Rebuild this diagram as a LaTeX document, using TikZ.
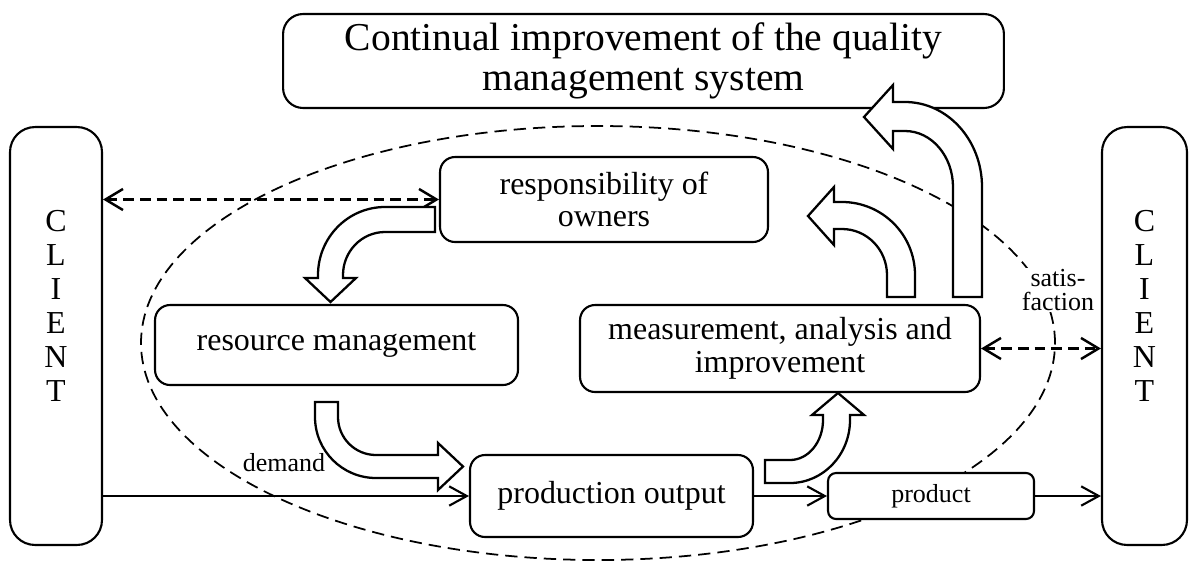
\documentclass[tikz,border=0pt]{standalone}
\usepackage{fontspec}
\setmainfont{Liberation Serif}
\usetikzlibrary{arrows.meta}

\tikzset{
    box/.style={draw, line width=1.2pt, fill=white, rounded corners=0.3cm, align=center, inner sep=0pt, font=\fontsize{18.2}{18.5}\selectfont},
    small/.style={fill=white, inner sep=1pt, align=center, font=\fontsize{14.8}{13.5}\selectfont},
    blockarrow/.style={draw, line width=1.3pt, fill=white, line join=miter},
    link/.style={line width=1.2pt, -{Straight Barb[length=10pt,width=11pt]}},
    dlink/.style={line width=1.4pt, dash pattern=on 6pt off 3.5pt, {Straight Barb[length=10pt,width=12pt]}-{Straight Barb[length=10pt,width=12pt]}},
}

\begin{document}
\begin{tikzpicture}[x=0.02cm, y=0.02cm]
    \useasboundingbox (0,0) rectangle (1193,-562);

    % system boundary
    \draw[line width=1pt, dash pattern=on 7pt off 4pt] (598,-343) ellipse [x radius=457, y radius=217];

    % top box
    \node[box, rounded corners=0.4cm, minimum width=14.42cm, minimum height=1.88cm, font=\fontsize{22.5}{23}\selectfont] (improve) at (643.5,-61) {Continual improvement of the quality\\management system};

    % clients
    \node[box, rounded corners=0.5cm, minimum width=1.84cm, minimum height=8.36cm] (clientL) at (56,-336) {};
    \node[align=center, font=\fontsize{18.2}{19.3}\selectfont] (clientLt) at (56,-306) {C\\L\\I\\E\\N\\T};
    \node[box, rounded corners=0.5cm, minimum width=1.70cm, minimum height=8.36cm] (clientR) at (1144.5,-336) {};
    \node[align=center, font=\fontsize{18.2}{19.3}\selectfont] (clientRt) at (1144.5,-306) {C\\L\\I\\E\\N\\T};

    % processes
    \node[box, minimum width=6.56cm, minimum height=1.70cm] (resp) at (604,-199.5) {responsibility of\\owners};
    \node[box, minimum width=7.26cm, minimum height=1.60cm] (res) at (336.5,-345) {resource management};
    \node[box, minimum width=8.00cm, minimum height=1.74cm] (meas) at (780,-348.5) {measurement, analysis and\\improvement};
    \node[box, minimum width=5.66cm, minimum height=1.64cm] (prod) at (611.5,-496) {production output};
    \node[box, rounded corners=0.16cm, minimum width=4.12cm, minimum height=0.92cm, font=\fontsize{14.8}{15}\selectfont] (product) at (931,-496) {product};

    % labels
    \node[small] (demand) at (284,-463) {demand};
    \node[small] (satis) at (1058,-290) {satis-\\faction};

    % flows
    \draw[dlink] (clientL.east |- resp.west) -- (resp.west);
    \draw[dlink] (meas.east) -- (clientR.west |- meas.east);
    \draw[link] (clientL.east |- prod.west) -- (prod.west);
    \draw[link] (prod.east) -- (product.west);
    \draw[link] (product.east) -- (clientR.west |- product.east);

    % responsibility -> resources
    \draw[blockarrow] (435,-207) -- (385,-207) arc[start angle=90, end angle=180, x radius=67, y radius=68]
        -- (318,-278) -- (305,-278) -- (330.5,-302) -- (356,-278) -- (343,-278) -- (343,-275)
        arc[start angle=180, end angle=90, x radius=42, y radius=43] -- (435,-232) -- cycle;

    % resources -> production
    \draw[blockarrow] (315,-402) -- (315,-417) arc[start angle=180, end angle=270, radius=61]
        -- (438,-478) -- (438,-490) -- (463,-466.5) -- (438,-443) -- (438,-455) -- (376,-455)
        arc[start angle=270, end angle=180, radius=38] -- (338,-402) -- cycle;

    % production -> measurement
    \draw[blockarrow] (765,-460) -- (790,-460) arc[start angle=270, end angle=360, x radius=33, y radius=40]
        -- (823,-415) -- (812,-415) -- (838,-393) -- (864,-415) -- (850,-415) -- (850,-420)
        arc[start angle=0, end angle=-90, x radius=60, y radius=63] -- (765,-483) -- cycle;

    % measurement -> responsibility
    \draw[blockarrow] (887,-297) -- (887,-275) arc[start angle=0, end angle=90, x radius=45, y radius=46]
        -- (834,-229) -- (834,-245) -- (808,-216) -- (834,-187) -- (834,-202) -- (842,-202)
        arc[start angle=90, end angle=0, x radius=73, y radius=73] -- (915,-297) -- cycle;

    % measurement -> continual improvement
    \draw[blockarrow] (953,-297) -- (953,-187) arc[start angle=0, end angle=90, x radius=48, y radius=56]
        -- (893,-131) -- (893,-149) -- (864,-117) -- (893,-85) -- (893,-102) -- (905,-102)
        arc[start angle=90, end angle=0, x radius=77, y radius=85] -- (982,-297) -- cycle;
\end{tikzpicture}
\end{document}
